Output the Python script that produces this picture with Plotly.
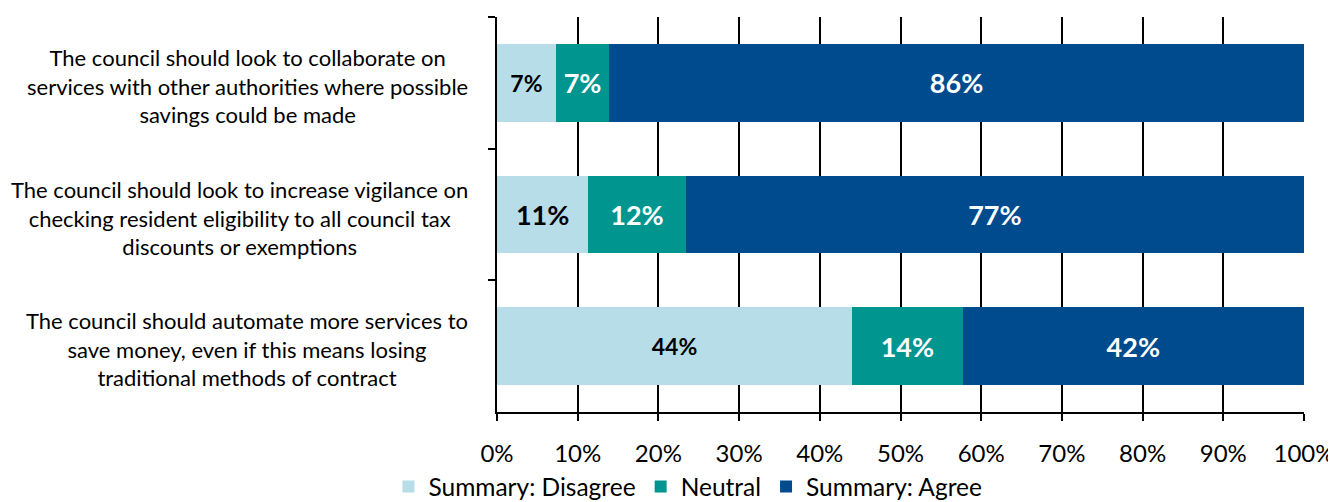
import plotly.graph_objects as go

categories = [
    "The council should look to collaborate on<br>services with other authorities where possible<br>savings could be made",
    "The council should look to increase vigilance on<br>checking resident eligibility to all council tax<br>discounts or exemptions",
    "The council should automate more services to<br>save money, even if this means losing<br>traditional methods of contract",
]
series_names = ["Summary: Disagree", "Neutral", "Summary: Agree"]
disagree = [7.3, 11.3, 44.0]
neutral = [6.6, 12.1, 13.7]
agree = [86.1, 76.6, 42.3]
tick_vals = [0, 10, 20, 30, 40, 50, 60, 70, 80, 90, 100]
tick_text = ["0%", "10%", "20%", "30%", "40%", "50%", "60%", "70%", "80%", "90%", "100%"]

colors = ["#B7DDE8", "#00958F", "#004B8D"]
text_colors = ["#000000", "#FFFFFF", "#FFFFFF"]
label_sizes = [[23, 27, 23], [27, 27, 27], [27, 27, 27]]
FONT = "Lato, Arial, sans-serif"

fig = go.Figure()
for name, vals, col, tcol, sizes in zip(series_names, [disagree, neutral, agree], colors, text_colors, label_sizes):
    fig.add_trace(go.Bar(
        y=categories, x=vals, name=name, orientation="h",
        marker=dict(color=col, line=dict(width=0)),
        texttemplate="%{x:.0f}%", textposition="inside", insidetextanchor="middle",
        textangle=0, constraintext="none",
        textfont=dict(family=FONT, size=sizes, color=tcol, weight="bold"),
        hoverinfo="skip",
    ))

# empty helper trace so the label axis (x2) is drawn
fig.add_trace(go.Scatter(x=[], y=[], xaxis="x2", yaxis="y", showlegend=False, hoverinfo="skip"))

for c in categories:
    fig.add_annotation(
        x=-0.0335, xref="paper", y=c, yref="y", text=c, showarrow=False,
        xanchor="right", yanchor="middle", align="center", yshift=-3,
        font=dict(family=FONT, size=22, color="#000000"),
    )

fig.update_layout(
    barmode="stack", bargap=0.41,
    width=1328, height=494,
    margin=dict(l=489, r=32, t=9, b=90, autoexpand=False),
    paper_bgcolor="white", plot_bgcolor="white",
    font=dict(family=FONT, color="#000000"),
    showlegend=True,
    legend=dict(
        orientation="h", xref="container", yref="container",
        x=0.512, xanchor="center", y=0.031, yanchor="middle",
        font=dict(family=FONT, size=24.5, color="#000000"),
        traceorder="normal", itemwidth=30,
    ),
    xaxis=dict(
        range=[0, 100], tickmode="array", tickvals=tick_vals,
        showticklabels=False,
        showgrid=True, gridcolor="#000000", gridwidth=1.5,
        showline=True, linecolor="#000000", linewidth=1.5,
        ticks="outside", ticklen=7, tickcolor="#000000", tickwidth=1.5,
        zeroline=False, fixedrange=True, automargin=False,
    ),
    xaxis2=dict(
        overlaying="x", anchor="y", side="bottom",
        range=[0, 100], tickmode="array", tickvals=tick_vals, ticktext=tick_text,
        showgrid=False, showline=False, ticks="", zeroline=False,
        tickfont=dict(family=FONT, size=24, color="#000000"),
        ticklabelstandoff=25, fixedrange=True, automargin=False,
    ),
    yaxis=dict(
        autorange="reversed", showticklabels=False,
        showline=True, linecolor="#000000", linewidth=1.5,
        ticks="outside", ticklen=7, tickcolor="#000000", tickwidth=1.5,
        tickson="boundaries", showgrid=False, fixedrange=True, automargin=False,
    ),
)

fig.write_html("out.html")
